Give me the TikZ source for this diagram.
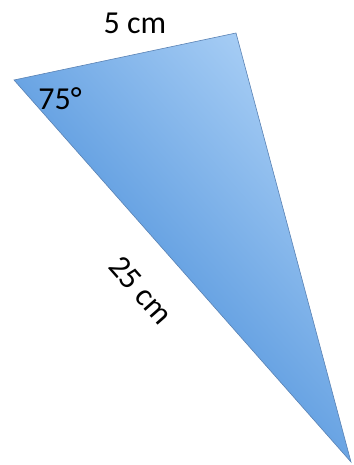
\documentclass[tikz,border=0pt]{standalone}
\usepackage{fontspec}
\setmainfont{Carlito}
\definecolor{lightblue}{RGB}{168,206,245}
\definecolor{darkblue}{RGB}{52,128,212}
\definecolor{edgeblue}{RGB}{90,130,180}
\tikzset{
  lbl/.style={font=\fontsize{32}{38}\selectfont, text=black, inner sep=0pt},
  tri/.style={draw=edgeblue, line width=0.6pt, shading=axis, top color=lightblue, bottom color=darkblue, shading angle=-48.6}
}
\begin{document}
\begin{tikzpicture}[x=1pt,y=1pt]
\useasboundingbox (0,0) rectangle (353,-465);
\coordinate (L) at (14,-80);
\coordinate (T) at (236,-33);
\coordinate (B) at (351,-462);
\path[tri] (L) -- (T) -- (B) -- cycle;
\node[lbl] (top) at (135,-23) {5 cm};
\node[lbl] (ang) at (60,-99) {75°};
\node[lbl, rotate=-48.6] (hyp) at (141,-290) {25 cm};
\end{tikzpicture}
\end{document}
